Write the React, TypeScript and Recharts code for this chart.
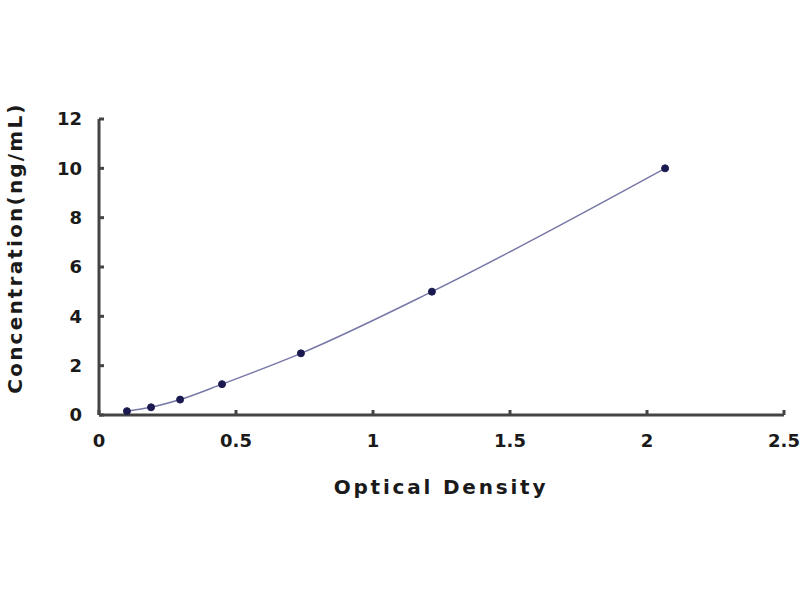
import { ComposedChart, Line, XAxis, YAxis, Label } from 'recharts'

// standard curve points
const opticalDensity = [0.102, 0.19, 0.296, 0.449, 0.737, 1.215, 2.066]
const concentration = [0.156, 0.312, 0.625, 1.25, 2.5, 5, 10]
const xTicks = [0, 0.5, 1, 1.5, 2, 2.5]
const yTicks = [0, 2, 4, 6, 8, 10, 12]

const data = opticalDensity.map((od, i) => ({ od, conc: concentration[i] }))

const FONT = '"DejaVu Sans", sans-serif'
const tickStyle = { fontFamily: FONT, fontSize: 18, fontWeight: 700, fill: '#1a1a1a' }

export default function App() {
  return (
    <div style={{ position: 'absolute', left: 0, top: 0, width: 800, height: 600, background: '#fff' }}>
      <ComposedChart
        width={800}
        height={600}
        data={data}
        margin={{ top: 119, right: 16, bottom: 105, left: 0 }}
      >
        <XAxis
          dataKey="od"
          type="number"
          domain={[0, 2.5]}
          ticks={xTicks}
          tickFormatter={(v) => String(v)}
          stroke="#444"
          strokeWidth={3}
          tickSize={-5}
          tickMargin={24}
          tick={tickStyle}
          height={80}
        >
          <Label
            content={() => (
              <text
                x={441}
                y={494}
                textAnchor="middle"
                fontFamily={FONT}
                fontSize={20}
                fontWeight={700}
                fill="#1a1a1a"
                letterSpacing={2.8}
              >
                Optical Density
              </text>
            )}
          />
        </XAxis>
        <YAxis
          type="number"
          domain={[0, 12]}
          ticks={yTicks}
          stroke="#444"
          strokeWidth={3}
          tickSize={-5}
          tickMargin={22}
          tick={tickStyle}
          width={99}
        >
          <Label
            content={() => (
              <text
                transform="translate(22, 248) rotate(-90)"
                textAnchor="middle"
                fontFamily={FONT}
                fontSize={20}
                fontWeight={700}
                fill="#1a1a1a"
                letterSpacing={2.2}
              >
                Concentration(ng/mL)
              </text>
            )}
          />
        </YAxis>
        <Line
          dataKey="conc"
          type="monotone"
          stroke="#7878a8"
          strokeWidth={1.5}
          dot={{ r: 3.5, fill: '#1a1a50', stroke: '#1a1a50', strokeWidth: 1 }}
          activeDot={false}
          isAnimationActive={false}
        />
      </ComposedChart>
    </div>
  )
}
